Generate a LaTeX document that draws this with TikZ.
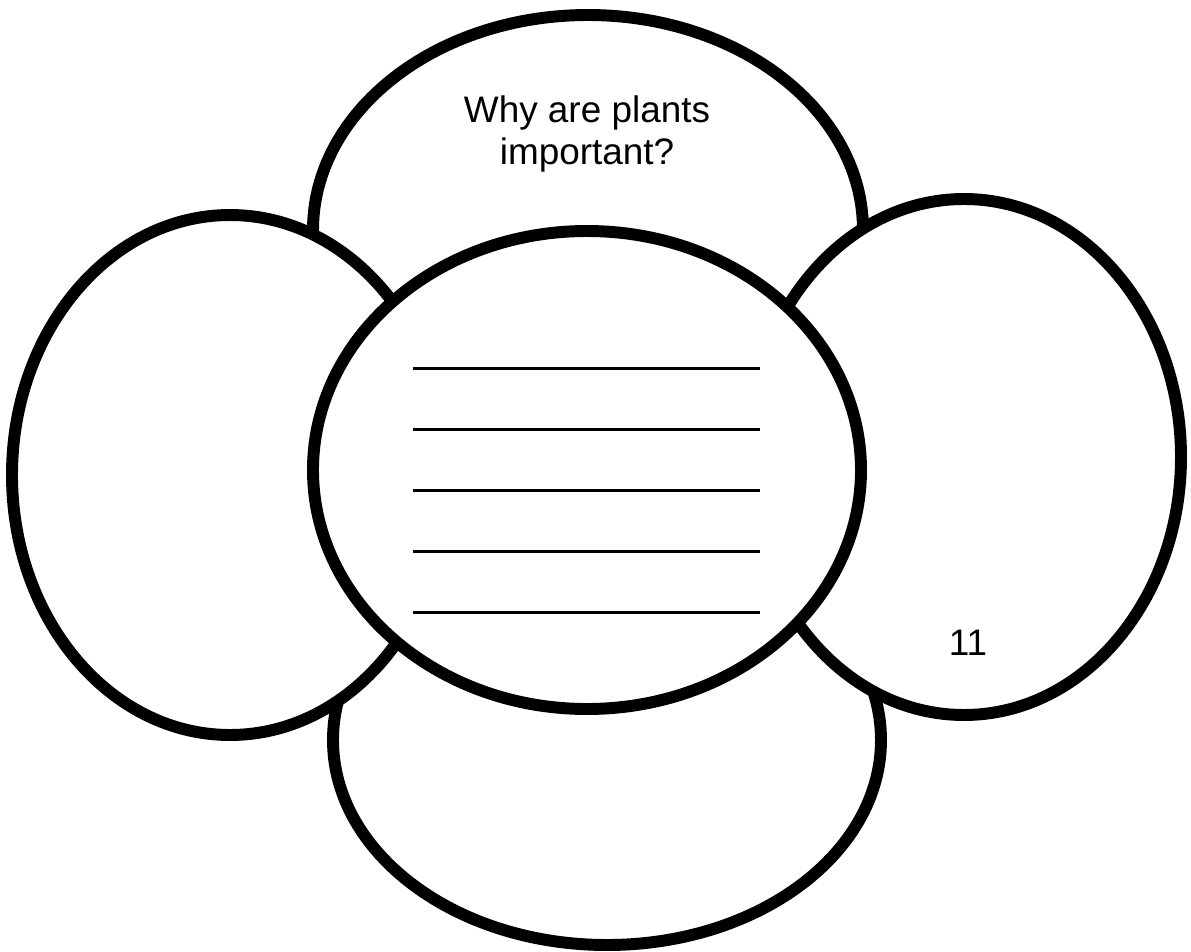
\documentclass[tikz,border=0pt]{standalone}
\usepackage{fontspec}
\setmainfont{Liberation Sans}
\usetikzlibrary{positioning}
\tikzset{
  petal/.style={fill=white,draw=black,line width=6.8pt},
  rule/.style={draw=black,line width=1.7pt},
  label/.style={font=\fontsize{21}{23.5}\selectfont,align=center,inner sep=0pt}
}
\begin{document}
\begin{tikzpicture}[x=0.02cm,y=-0.02cm]
  \useasboundingbox (0,0) rectangle (1191,951);
  % outer petals
  \path[petal] (588,230) ellipse (275 and 215);
  \path[petal] (607,740) ellipse (274 and 205);
  \path[petal] (230,475) ellipse (218 and 260);
  \path[petal] (964,457) ellipse (217 and 258);
  % middle
  \path[petal] (587,470) ellipse (274 and 239);
  \foreach \y in {368,429,490,551,612}
    \draw[rule] (413,\y) -- (760,\y);
  \node[label] (question) at (587,134) {Why are plants\\important?};
  \node[label] (pagenum) at (968,643) {11};
\end{tikzpicture}
\end{document}
